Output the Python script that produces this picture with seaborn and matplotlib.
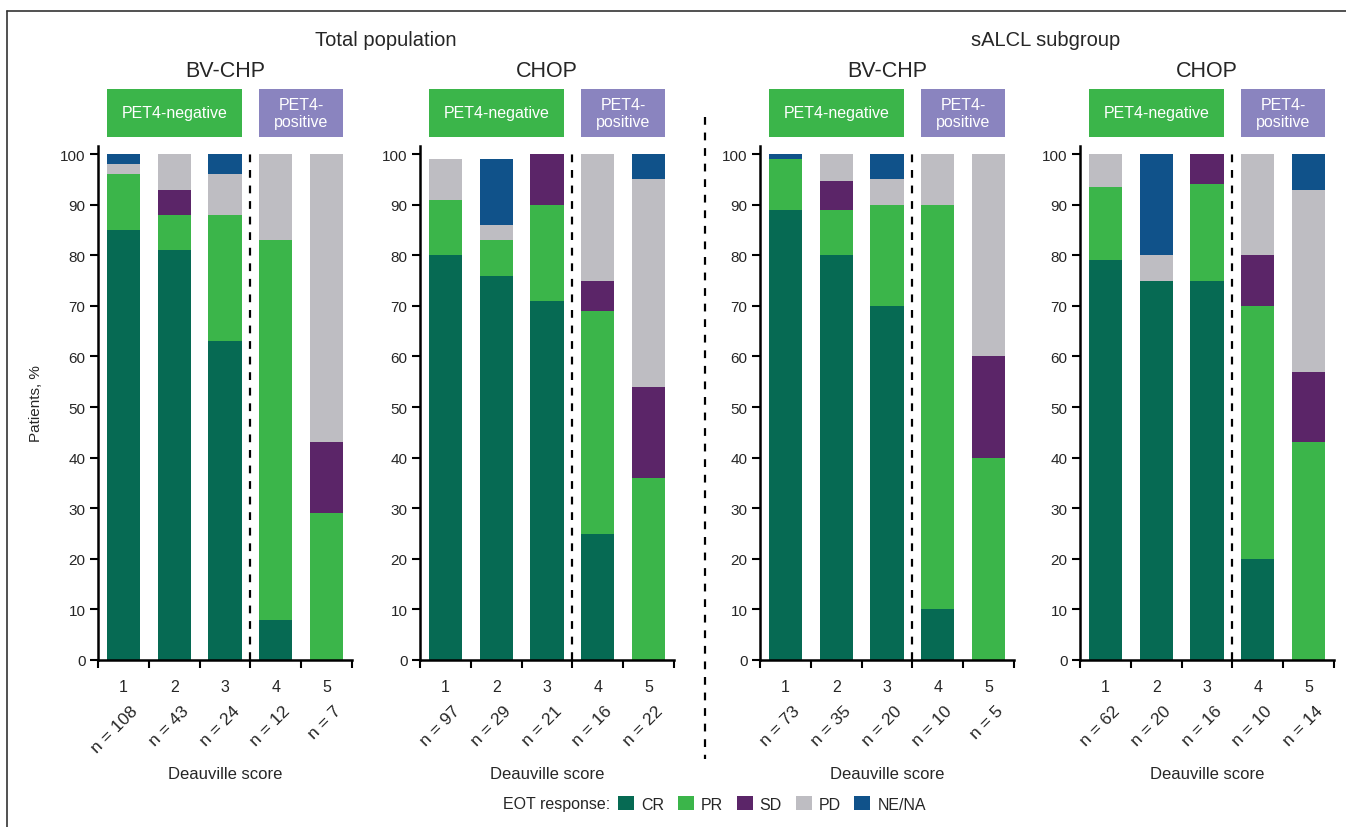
import numpy as np
import pandas as pd
import matplotlib
matplotlib.use("Agg")
import matplotlib.pyplot as plt
import matplotlib.transforms as mtransforms
from matplotlib.patches import Patch, Rectangle
from matplotlib.lines import Line2D
import seaborn as sns

# Datos (porcentaje de pacientes por Deauville score)
scores = ["1", "2", "3", "4", "5"]
responses = ["CR", "PR", "SD", "PD", "NE/NA"]

tot_bv = {"CR": [85, 81, 63, 8, 0], "PR": [11, 7, 25, 75, 29], "SD": [0, 5, 0, 0, 14],
          "PD": [2, 7, 8, 17, 57], "NE/NA": [2, 0, 4, 0, 0]}
tot_chop = {"CR": [80, 76, 71, 25, 0], "PR": [11, 7, 19, 44, 36], "SD": [0, 0, 10, 6, 18],
            "PD": [8, 3, 0, 25, 41], "NE/NA": [0, 13, 0, 0, 5]}
salcl_bv = {"CR": [89, 80, 70, 10, 0], "PR": [10, 9, 20, 80, 40], "SD": [0, 5.7, 0, 0, 20],
            "PD": [0, 5.3, 5, 10, 40], "NE/NA": [1, 0, 5, 0, 0]}
salcl_chop = {"CR": [79, 75, 75, 20, 0], "PR": [14.5, 0, 19, 50, 43], "SD": [0, 0, 6, 10, 14],
              "PD": [6.5, 5, 0, 20, 36], "NE/NA": [0, 20, 0, 0, 7]}

n_tot_bv = [108, 43, 24, 12, 7]
n_tot_chop = [97, 29, 21, 16, 22]
n_salcl_bv = [73, 35, 20, 10, 5]
n_salcl_chop = [62, 20, 16, 10, 14]

panels = [("BV-CHP", tot_bv, n_tot_bv), ("CHOP", tot_chop, n_tot_chop),
          ("BV-CHP", salcl_bv, n_salcl_bv), ("CHOP", salcl_chop, n_salcl_chop)]

colores = {"CR": "#066A53", "PR": "#3BB54A", "SD": "#5B2568", "PD": "#BEBDC2", "NE/NA": "#10528A"}
verde_caja = "#3BB54A"
morado_caja = "#8A84BF"

sns.set_style("white")
plt.rcParams["font.family"] = ["Liberation Sans", "DejaVu Sans"]

W, H = 1346, 828
fig = plt.figure(figsize=(W / 100, H / 100), dpi=100)

izq = [98, 420, 760, 1080]
ancho = 254
abajo = 1 - 661 / H
alto = (661 - 147) / H
ancho_barra = 0.65

for k, (trat, datos, ns) in enumerate(panels):
    ax = fig.add_axes([izq[k] / W, abajo, ancho / W, alto])
    df = pd.DataFrame(datos, index=scores)
    acum = df[responses].cumsum(axis=1)
    # barras apiladas: se dibuja la suma acumulada de arriba hacia abajo
    for r in responses[::-1]:
        sns.barplot(x=scores, y=acum[r].values, color=colores[r], saturation=1,
                    width=ancho_barra, linewidth=0, ax=ax)

    ax.set_xlim(-0.5, 4.5)
    ax.set_ylim(0, 101.6)
    ax.set_yticks(np.arange(0, 101, 10))
    ax.set_xticks(np.arange(-0.5, 4.6, 1))
    ax.set_xticklabels([])
    ax.set_xticks(range(5), minor=True)
    ax.set_xticklabels(scores, minor=True)
    ax.tick_params(axis="x", which="minor", length=0, pad=14, labelsize=11.5)
    ax.tick_params(axis="both", which="major", direction="out", length=6, width=1.5,
                   color="black", labelsize=11, pad=3)
    ax.tick_params(axis="x", which="major", bottom=True)
    ax.tick_params(axis="y", left=True)
    for s in ["top", "right"]:
        ax.spines[s].set_visible(False)
    for s in ["left", "bottom"]:
        ax.spines[s].set_color("black")
        ax.spines[s].set_linewidth(1.8)
    ax.set_xlabel("")
    ax.set_ylabel("")
    ax.grid(False)

    ax.axvline(2.5, ymin=0, ymax=100 / 101.6, color="black", lw=1.6,
               linestyle=(0, (3.5, 3.5)))

    tr = mtransforms.blended_transform_factory(ax.transData, fig.transFigure)
    # cajas PET4
    y0 = 1 - 138 / H
    hb = 48 / H
    ax.add_patch(Rectangle((-ancho_barra / 2, y0), 2 + ancho_barra, hb, transform=tr,
                           facecolor=verde_caja, edgecolor="none", clip_on=False))
    ax.add_patch(Rectangle((3 - ancho_barra / 2, y0), 1 + ancho_barra, hb, transform=tr,
                           facecolor=morado_caja, edgecolor="none", clip_on=False))
    ax.text(1, y0 + hb / 2, "PET4-negative", transform=tr, ha="center", va="center",
            color="white", fontsize=11.5)
    ax.text(3.5, y0 + hb / 2, "PET4-\npositive", transform=tr, ha="center", va="center",
            color="white", fontsize=11.5, linespacing=1.15)

    # n por categoria
    for i, n in enumerate(ns):
        ax.text(i + 0.24, 1 - 709 / H, f"n = {n}", transform=tr, rotation=45,
                rotation_mode="anchor", ha="right", va="center", fontsize=12.5)

    ax.text(2, 1 - 775 / H, "Deauville score", transform=tr, ha="center", va="center",
            fontsize=12)
    ax.text(2, 1 - 72 / H, trat, transform=tr, ha="center", va="center", fontsize=15.5)

    if k == 0:
        ax.set_ylabel("Patients, %", fontsize=11, labelpad=12)

# titulos de grupo
fig.text(386 / W, 1 - 40 / H, "Total population", ha="center", va="center", fontsize=14.5)
fig.text(1046 / W, 1 - 40 / H, "sALCL subgroup", ha="center", va="center", fontsize=14.5)

# linea divisoria entre grupos
fig.add_artist(Line2D([705 / W, 705 / W], [1 - 118 / H, 1 - 760 / H], color="black",
                      lw=1.6, linestyle=(0, (3.5, 3.5))))

# marco
fig.add_artist(Line2D([7 / W, 1], [1 - 12 / H, 1 - 12 / H], color="#333333", lw=1.2))
fig.add_artist(Line2D([7 / W, 7 / W], [1 - 12 / H, 0], color="#333333", lw=1.2))

# leyenda
fig.text(610 / W, 1 - 805 / H, "EOT response:", ha="right", va="center", fontsize=11.5)
handles = [Patch(facecolor=colores[r], edgecolor="none", label=r) for r in responses]
fig.legend(handles=handles, loc="center left", bbox_to_anchor=(618 / W, 1 - 805 / H),
           ncol=5, frameon=False, fontsize=11.5, handlelength=1.0, handleheight=1.0,
           handletextpad=0.45, columnspacing=0.85, borderpad=0, borderaxespad=0)

fig.savefig("out.png", dpi=100)
